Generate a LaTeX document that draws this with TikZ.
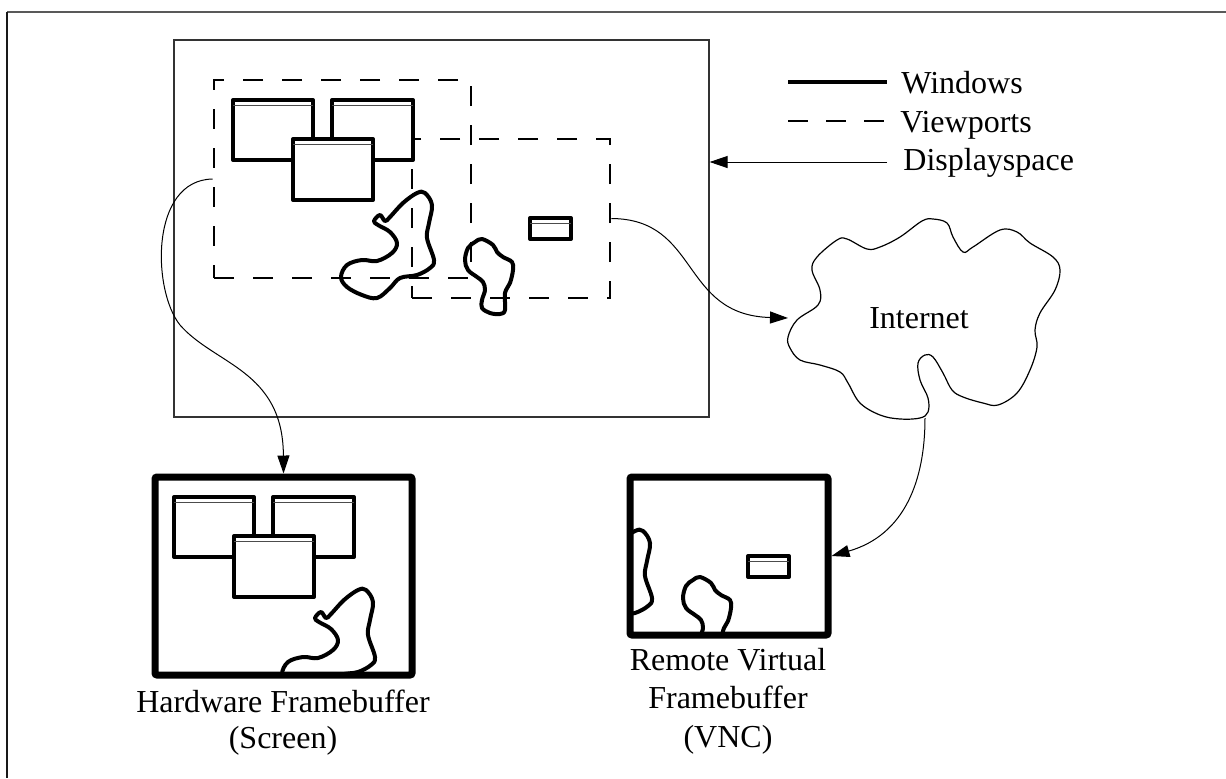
\documentclass[tikz,border=0pt]{standalone}
\usepackage{fontspec}
\setmainfont{Liberation Serif}
\usetikzlibrary{fit,arrows.meta}
\tikzset{
  x=0.5pt,y=-0.5pt,
  win/.style={draw, fill=white, line width=2pt, line join=round},
  titlebar/.style={draw=black!70, line width=0.6pt},
  blob/.style={draw, line width=2pt, line join=round, line cap=round},
  viewport/.style={draw, line width=1.35pt, dash pattern=on 10pt off 9.5pt, inner sep=0pt},
  thinbox/.style={draw=black!80, line width=0.6pt, inner sep=0pt},
  fbbox/.style={draw, line width=3.5pt, rounded corners=1pt, inner sep=0pt},
  conn/.style={line width=0.5pt, -{Triangle[length=9pt,width=6pt]}},
  lbl/.style={font=\fontsize{16}{19}\selectfont, align=center, inner sep=0pt},
}
\newcommand\mywin[4]{%
  \draw[win] (#1,#2) rectangle (#3,#4);
  \draw[titlebar] (#1,#2+5.5) -- (#3,#2+5.5);}
\newcommand\myblobA{%
  \draw[blob] plot[smooth cycle, tension=0.6] coordinates {
    (390,217) (403,203) (417,193) (425,193) (432,205) (429,223) (427,238)
    (434,260) (430,268) (417,275) (400,278) (390,288) (377,298) (362,295)
    (347,287) (341,277) (347,265) (362,260) (377,261) (392,253) (397,243)
    (390,232) (378,225) (374,221) (380,215) (385,221)};}
\newcommand\myblobB{%
  \draw[blob] plot[smooth cycle, tension=0.6] coordinates {
    (482,239) (493,245) (497,252) (503,257) (512,262) (513,270) (510,283)
    (505,293) (505,310) (500,314) (490,313) (482,308) (482,300) (485,290)
    (483,282) (477,277) (468,270) (465,260) (468,248) (475,242)};}
\newcommand\myvpAcontent{%
  \mywin{233}{100}{313}{160}
  \mywin{332}{100}{413}{160}
  \mywin{293}{139}{373}{200}
  \myblobA}
\newcommand\myvpBcontent{%
  \mywin{530}{218}{571}{239}
  \myblobB}
\begin{document}
\begin{tikzpicture}
\useasboundingbox (0,0) rectangle (1226,778);
% outer frame (top and left edges)
\draw[black!65, line width=0.8pt] (7,12) -- (1226,12);
\draw[black!90, line width=0.6pt] (7,12) -- (7,778);

% displayspace
\node[thinbox, fit={(174,40)(709,417)}] (ds) {};
\node[viewport, fit={(214,80)(471,278)}] (vp1) {};
\node[viewport, fit={(412,139)(610,298)}] (vp2) {};
\myvpAcontent
\myvpBcontent

% legend
\coordinate (lgw1) at (788,82);
\coordinate (lgw2) at (887,82);
\draw[line width=2pt] (lgw1) -- (lgw2);
\node[lbl, anchor=base west] (lgwin) at (901,93) {Windows};
\coordinate (lgv1) at (788,121);
\coordinate (lgv2) at (887,121);
\draw[line width=1.35pt, dash pattern=on 10pt off 9pt] (lgv1) -- (lgv2);
\node[lbl, anchor=base west] (lgvp) at (900,132) {Viewports};
\coordinate (lgd) at (887,162);
\draw[conn] (lgd) -- (ds.east |- lgd);
\node[lbl, anchor=base west] (lgds) at (903,170) {Displayspace};

% internet cloud
\draw[line width=0.6pt] plot[smooth cycle, tension=0.6] coordinates {
  (788,337) (797,320) (818,305) (820,290) (812,270) (817,257) (837,240)
  (847,239) (867,249) (880,247) (900,237) (922,221) (933,219) (947,223)
  (953,237) (963,252) (973,247) (1000,230) (1017,232) (1030,243) (1053,257)
  (1060,270) (1055,290) (1040,313) (1035,330) (1037,347) (1030,370)
  (1017,393) (998,405) (983,403) (963,397) (952,390) (943,373) (933,357)
  (925,355) (918,363) (920,380) (928,398) (928,412) (920,418) (900,419)
  (880,415) (860,403) (848,383) (840,372) (820,365) (800,360) (790,348)};
\node[lbl, anchor=base] (inet) at (919,328) {Internet};
\coordinate (cloudW) at (788,318);
\coordinate (cloudS) at (925,418);

% hardware framebuffer
\begin{scope}
  \clip (155,477) rectangle (412,675);
  \begin{scope}[shift={(-59,397)}]
    \myvpAcontent
  \end{scope}
\end{scope}
\node[fbbox, fit={(155,477)(412,675)}] (hw) {};
\node[lbl, font=\fontsize{16}{18}\selectfont, anchor=base] (hwlbl) at (283,748) {Hardware Framebuffer\\(Screen)};

% remote virtual framebuffer
\begin{scope}
  \clip (630,477) rectangle (828,635);
  \begin{scope}[shift={(218,338)}]
    \myvpBcontent
    \myblobA
  \end{scope}
\end{scope}
\node[fbbox, fit={(630,477)(828,635)}] (vnc) {};
\node[lbl, font=\fontsize{16}{19.25}\selectfont, anchor=base] (vnclbl) at (728,747) {Remote Virtual\\Framebuffer\\(VNC)};

% connectors
\draw[conn] (vp1.west) .. controls (150,180) and (152,290) .. (180,325)
  .. controls (215,365) and (283,370) .. (hw.north);
\draw[conn] (vp2.east) .. controls (700,219) and (680,315) .. (cloudW);
\draw[conn] (cloudS) .. controls (925,480) and (905,535) .. (vnc.east);
\end{tikzpicture}
\end{document}
